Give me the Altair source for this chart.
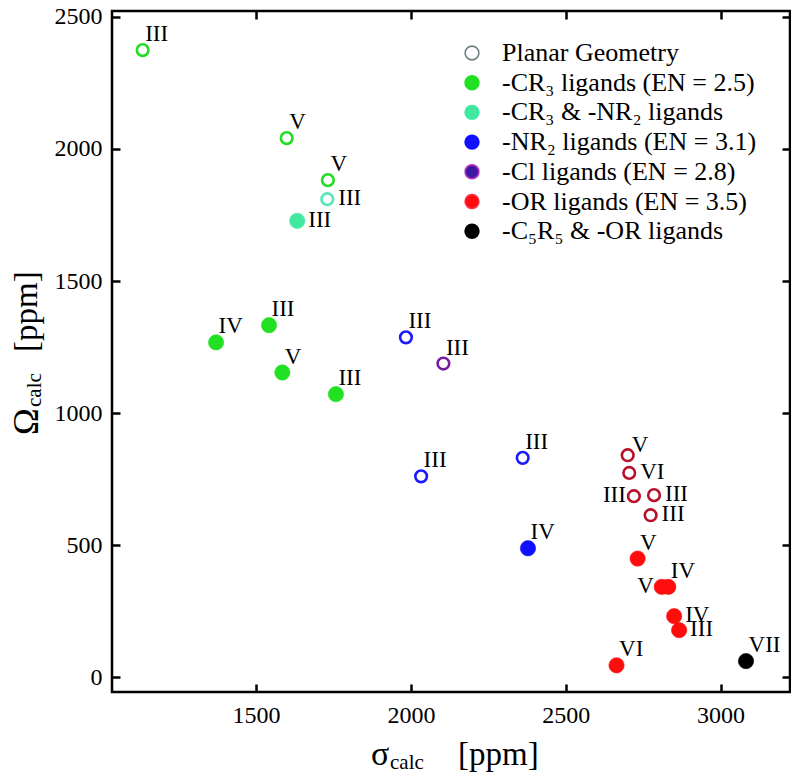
import altair as alt
import pandas as pd

# ---- data ----
sigma = [1134, 1599, 1732, 1730, 1633, 1371, 1542, 1585, 1758, 1984, 2105, 2361, 2033,
         2378, 2700, 2705, 2720, 2785, 2774, 2732, 2810, 2831, 2850, 2866, 2664, 3082]
omega = [2374, 2041, 1882, 1810, 1728, 1268, 1333, 1154, 1072, 1287, 1188, 831, 761,
         489, 841, 774, 686, 690, 614, 450, 343, 343, 232, 179, 46, 62]
labels = ["III", "V", "V", "III", "III", "IV", "III", "V", "III", "III", "III", "III", "III",
          "IV", "V", "VI", "III", "III", "III", "V", "V", "IV", "IV", "III", "VI", "VII"]
ligand = ["CR3", "CR3", "CR3", "CR3NR2", "CR3NR2", "CR3", "CR3", "CR3", "CR3", "NR2", "Cl",
          "NR2", "NR2", "NR2", "OR", "OR", "OR", "OR", "OR", "OR", "OR", "OR", "OR", "OR",
          "OR", "C5R5"]
planar = [True, True, True, True, False, False, False, False, False, True, True, True, True,
          False, True, True, True, True, True, False, False, False, False, False, False, False]
placement = ["ur", "ur", "ur", "r", "r", "ur", "ur", "ur", "ur", "ur", "ur", "ur", "ur",
             "ur", "ur2", "r", "l", "r", "r", "ur", "l", "ur", "r", "r", "ur", "ur"]

legend_names = ["Planar Geometry", "-CR\u2083 ligands (EN = 2.5)", "-CR\u2083 & -NR\u2082 ligands",
                "-NR\u2082 ligands (EN = 3.1)", "-Cl ligands (EN = 2.8)",
                "-OR ligands (EN = 3.5)", "-C\u2085R\u2085 & -OR ligands"]
legend_fill = ["#ffffff", "#22e022", "#40e8a0", "#1010ff", "#3a1aa0", "#ff0d0d", "#000000"]
legend_stroke = ["#6e8484", "#22e022", "#40e8a0", "#1010ff", "#b030c0", "#ff2a40", "#000000"]

fill_of = {"CR3": "#22e022", "CR3NR2": "#40e8a0", "NR2": "#1010ff", "Cl": "#3a1aa0",
           "OR": "#ff0d0d", "C5R5": "#000000"}
ring_of = {"CR3": "#22dd22", "CR3NR2": "#55e8b4", "NR2": "#1a1aff", "Cl": "#7a1aa0",
           "OR": "#b8102a", "C5R5": "#000000"}

df = pd.DataFrame({
    "sigma": sigma, "omega": omega, "label": labels, "ligand": ligand,
    "planar": planar, "place": placement,
})
df["fillc"] = [fill_of[l] for l in ligand]
df["ringc"] = [ring_of[l] for l in ligand]

leg_df = pd.DataFrame({"name": legend_names})

SERIF = "Liberation Serif"
W, H = 678, 681
xdom = [1035, 3224]
ydom = [-55, 2522]
xticks = [1500, 2000, 2500, 3000]
yticks = [0, 500, 1000, 1500, 2000, 2500]

xs = alt.Scale(domain=xdom, nice=False, zero=False)
ys = alt.Scale(domain=ydom, nice=False, zero=False)

TICK = dict(grid=False, domain=False, labels=False, title=None, tickColor="black",
            tickWidth=2.5, tickSize=8)
LAB = dict(grid=False, domain=False, ticks=False, title=None, format="d",
           labelFont=SERIF, labelFontSize=24, labelColor="black")

# label axes
x_lab = alt.Axis(orient="bottom", values=xticks, labelPadding=11, **LAB)
y_lab = alt.Axis(orient="left", values=yticks, labelPadding=10, **LAB)
# inward ticks: axes flipped onto the opposite edge
x_tick_bottom = alt.Axis(orient="top", values=xticks, offset=-H, **TICK)
x_tick_top = alt.Axis(orient="bottom", values=xticks, offset=-H, **TICK)
y_tick_left = alt.Axis(orient="right", values=yticks, offset=-W, **TICK)
y_tick_right = alt.Axis(orient="left", values=yticks, offset=-W, **TICK)

base = alt.Chart(df)

filled = base.transform_filter(alt.datum.planar == False).mark_circle(
    size=235, opacity=1, strokeWidth=0.6
).encode(
    x=alt.X("sigma:Q", scale=xs, axis=x_lab),
    y=alt.Y("omega:Q", scale=ys, axis=y_lab),
    color=alt.Color("fillc:N", scale=None),
    stroke=alt.Stroke("fillc:N", scale=None),
)

opened = base.transform_filter(alt.datum.planar == True).mark_point(
    shape="circle", filled=False, size=135, strokeWidth=2.6, opacity=1
).encode(
    x=alt.X("sigma:Q", scale=xs, axis=x_tick_bottom),
    y=alt.Y("omega:Q", scale=ys, axis=y_tick_left),
    stroke=alt.Stroke("ringc:N", scale=None),
)

def label_layer(place, xaxis=None, yaxis=None, **kw):
    return base.transform_filter(alt.datum.place == place).mark_text(
        font=SERIF, fontSize=23, color="black", **kw
    ).encode(
        x=alt.X("sigma:Q", scale=xs, axis=xaxis),
        y=alt.Y("omega:Q", scale=ys, axis=yaxis),
        text="label:N",
    )

lab_ur = label_layer("ur", x_tick_top, y_tick_right,
                     align="left", baseline="alphabetic", dx=2.5, dy=-9)
lab_ur2 = label_layer("ur2", align="left", baseline="alphabetic", dx=4, dy=-3)
lab_r = label_layer("r", align="left", baseline="middle", dx=11, dy=-1)
lab_l = label_layer("l", align="right", baseline="middle", dx=-8, dy=-1)

leg_props = dict(title=None, orient="none", legendX=347, legendY=29, padding=0,
                 labelFont=SERIF, labelFontSize=26, labelColor="black", labelLimit=600,
                 symbolSize=190, symbolStrokeWidth=1.6, symbolType="circle",
                 rowPadding=3.7, labelOffset=17)

legend_layer = alt.Chart(leg_df).transform_filter("false").mark_circle(
    opacity=1, strokeWidth=1.6
).encode(
    fill=alt.Fill("name:N", scale=alt.Scale(domain=legend_names, range=legend_fill),
                  legend=alt.Legend(**leg_props)),
    stroke=alt.Stroke("name:N", scale=alt.Scale(domain=legend_names, range=legend_stroke),
                      legend=alt.Legend(**leg_props)),
)

# axis titles with subscripts
title_df = pd.DataFrame({"t": ["x"]})
def ttext(txt, x, y, size, angle=0):
    return alt.Chart(title_df).mark_text(
        font=SERIF, fontSize=size, align="left", baseline="alphabetic", angle=angle,
        color="black"
    ).encode(x=alt.value(x), y=alt.value(y), text=alt.value(txt))

titles = [
    ttext("\u03c3", 259, 754, 34),
    ttext("calc", 278, 758, 21),
    ttext("[ppm]", 346, 754, 33),
    ttext("\u03a9", -74, 424, 36, 270),
    ttext("calc", -71, 396, 21, 270),
    ttext("[ppm]", -75, 341, 33, 270),
]

chart = alt.layer(
    legend_layer, filled, opened, lab_ur, lab_ur2, lab_r, lab_l, *titles
).resolve_axis(
    x="independent", y="independent"
).properties(
    width=W, height=H,
    autosize=alt.AutoSizeParams(type="none"),
    padding={"left": 104, "top": 3, "right": 1, "bottom": 85},
).configure_view(
    stroke="black", strokeWidth=2.5
)

chart.save("out.html", embed_options={"renderer": "svg", "actions": False})
